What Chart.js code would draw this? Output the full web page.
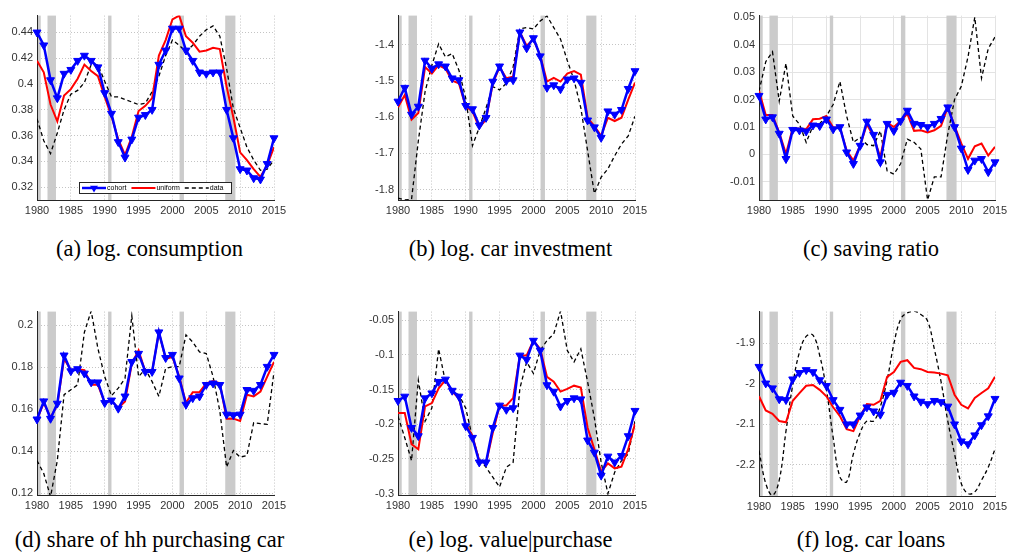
<!DOCTYPE html>
<html lang="en">
<head>
<meta charset="UTF-8" />
<title>Cohort vs uniform model, 1980-2015</title>
<style>
  body { margin: 0; background: #fff; width: 1010px; height: 553px; position: relative; overflow: hidden; }
  .panel { position: absolute; }
  .caption {
    position: absolute; width: 340px; text-align: center; white-space: nowrap;
    font-family: "Liberation Serif", "Times New Roman", serif; font-size: 22.5px; color: #000;
  }
</style>
</head>
<body>
<div class="panel" id="pa"><canvas id="ca"></canvas></div>
<div class="panel" id="pb"><canvas id="cb"></canvas></div>
<div class="panel" id="pc"><canvas id="cc"></canvas></div>
<div class="panel" id="pd"><canvas id="cd"></canvas></div>
<div class="panel" id="pe"><canvas id="ce"></canvas></div>
<div class="panel" id="pf"><canvas id="cf"></canvas></div>

<script src="https://cdn.jsdelivr.net/npm/chart.js@4/dist/chart.umd.min.js"></script>
<script>
const years = [1980, 1981, 1982, 1983, 1984, 1985, 1986, 1987, 1988, 1989,
               1990, 1991, 1992, 1993, 1994, 1995, 1996, 1997, 1998, 1999,
               2000, 2001, 2002, 2003, 2004, 2005, 2006, 2007, 2008, 2009,
               2010, 2011, 2012, 2013, 2014, 2015];
const xTicks = [1980, 1985, 1990, 1995, 2000, 2005, 2010, 2015];

// NBER recessions, start/end as fractional years
const recessions = [[1980.0, 1980.55], [1981.55, 1982.8], [1990.5, 1991.0],
                    [2001.05, 2001.7], [2007.8, 2009.3]];

const seriesNames = ["cohort", "uniform", "data"];

// (a) log. consumption
const consCohort = [0.440, 0.430, 0.403, 0.389, 0.408, 0.411, 0.418, 0.422, 0.418, 0.413,
                    0.393, 0.377, 0.355, 0.343, 0.357, 0.374, 0.376, 0.380, 0.415, 0.426,
                    0.443, 0.443, 0.426, 0.418, 0.409, 0.408, 0.409, 0.409, 0.380, 0.358,
                    0.334, 0.333, 0.327, 0.326, 0.338, 0.358];
const consUniform = [0.418, 0.409, 0.384, 0.371, 0.391, 0.396, 0.404, 0.415, 0.410, 0.406,
                     0.390, 0.375, 0.357, 0.345, 0.359, 0.379, 0.383, 0.389, 0.422, 0.434,
                     0.450, 0.453, 0.437, 0.432, 0.425, 0.426, 0.428, 0.427, 0.398, 0.374,
                     0.347, 0.341, 0.334, 0.328, 0.337, 0.351];
const consData = [0.373, 0.356, 0.346, 0.362, 0.380, 0.392, 0.395, 0.401, 0.415, 0.415,
                  0.402, 0.390, 0.390, 0.388, 0.386, 0.384, 0.385, 0.394, 0.406, 0.422,
                  0.434, 0.430, 0.425, 0.430, 0.437, 0.442, 0.445, 0.437, 0.412, 0.381,
                  0.366, 0.351, 0.341, 0.333, 0.334, 0.341];
const consTicks = [0.32, 0.34, 0.36, 0.38, 0.40, 0.42, 0.44];

// (b) log. car investment
const invCohort = [-1.557, -1.519, -1.593, -1.571, -1.444, -1.466, -1.454, -1.460, -1.493, -1.498,
                   -1.569, -1.578, -1.623, -1.602, -1.502, -1.460, -1.500, -1.498, -1.366, -1.410,
                   -1.382, -1.432, -1.519, -1.512, -1.523, -1.496, -1.493, -1.505, -1.609, -1.628,
                   -1.657, -1.584, -1.593, -1.580, -1.522, -1.473];
const invUniform = [-1.573, -1.539, -1.607, -1.589, -1.462, -1.480, -1.457, -1.466, -1.500, -1.507,
                    -1.571, -1.584, -1.629, -1.607, -1.507, -1.462, -1.493, -1.489, -1.366, -1.403,
                    -1.385, -1.430, -1.502, -1.492, -1.502, -1.480, -1.473, -1.483, -1.602, -1.625,
                    -1.652, -1.602, -1.611, -1.602, -1.552, -1.505];
const invData = [-1.824, -1.829, -1.827, -1.666, -1.530, -1.457, -1.398, -1.434, -1.425, -1.471,
                 -1.548, -1.679, -1.629, -1.575, -1.516, -1.525, -1.507, -1.462, -1.357, -1.353,
                 -1.357, -1.335, -1.321, -1.353, -1.385, -1.444, -1.498, -1.575, -1.693, -1.811,
                 -1.766, -1.743, -1.707, -1.675, -1.652, -1.598];
const invTicks = [-1.8, -1.7, -1.6, -1.5, -1.4];

// (c) saving ratio
const saveCohort = [0.0214, 0.0128, 0.0136, 0.0076, -0.0016, 0.0090, 0.0088, 0.0084, 0.0106, 0.0104,
                    0.0128, 0.0092, 0.0100, 0.0008, -0.0034, 0.0032, 0.0120, 0.0072, -0.0028, 0.0112,
                    0.0086, 0.0122, 0.0160, 0.0112, 0.0108, 0.0100, 0.0112, 0.0130, 0.0172, 0.0100,
                    0.0022, -0.0056, -0.0022, -0.0016, -0.0064, -0.0028];
const saveUniform = [0.0232, 0.0144, 0.0144, 0.0080, 0.0002, 0.0096, 0.0094, 0.0092, 0.0128, 0.0130,
                     0.0140, 0.0098, 0.0098, 0.0014, -0.0022, 0.0032, 0.0110, 0.0064, -0.0010, 0.0116,
                     0.0100, 0.0122, 0.0148, 0.0086, 0.0088, 0.0080, 0.0088, 0.0104, 0.0172, 0.0104,
                     0.0040, -0.0016, 0.0030, 0.0040, -0.0004, 0.0028];
const saveData = [0.0230, 0.0338, 0.0374, 0.0194, 0.0332, 0.0140, 0.0110, 0.0044, 0.0104, 0.0112,
                  0.0140, 0.0182, 0.0266, 0.0140, 0.0044, 0.0062, 0.0036, 0.0032, 0.0086, -0.0060,
                  -0.0072, -0.0034, 0.0056, 0.0044, 0.0020, -0.0166, -0.0082, -0.0082, 0.0074, 0.0200,
                  0.0248, 0.0356, 0.0500, 0.0278, 0.0386, 0.0428];
const saveTicks = [-0.01, 0, 0.01, 0.02, 0.03, 0.04, 0.05];

// (d) share of hh purchasing car
const shareCohort = [0.1552, 0.1638, 0.1555, 0.1627, 0.1856, 0.1781, 0.1791, 0.1770, 0.1728, 0.1728,
                     0.1630, 0.1642, 0.1603, 0.1661, 0.1825, 0.1864, 0.1778, 0.1778, 0.1966, 0.1844,
                     0.1859, 0.1747, 0.1622, 0.1653, 0.1661, 0.1716, 0.1723, 0.1716, 0.1575, 0.1572,
                     0.1575, 0.1692, 0.1688, 0.1716, 0.1802, 0.1859];
const shareUniform = [0.1550, 0.1630, 0.1560, 0.1620, 0.1840, 0.1786, 0.1790, 0.1786, 0.1716, 0.1716,
                      0.1630, 0.1640, 0.1606, 0.1637, 0.1817, 0.1880, 0.1778, 0.1780, 0.1966, 0.1840,
                      0.1848, 0.1755, 0.1630, 0.1681, 0.1681, 0.1723, 0.1734, 0.1723, 0.1555, 0.1555,
                      0.1544, 0.1669, 0.1661, 0.1684, 0.1755, 0.1825];
const shareData = [0.1356, 0.1294, 0.1184, 0.1356, 0.1669, 0.1692, 0.1716, 0.1966, 0.2067, 0.1888,
                   0.1755, 0.1664, 0.1700, 0.1747, 0.2044, 0.1755, 0.1791, 0.1731, 0.1661, 0.1794,
                   0.1802, 0.1802, 0.1953, 0.1919, 0.1872, 0.1864, 0.1755, 0.1591, 0.1325, 0.1403,
                   0.1372, 0.1380, 0.1536, 0.1531, 0.1528, 0.1778];
const shareTicks = [0.12, 0.14, 0.16, 0.18, 0.2];

// (e) log. value|purchase
const valCohort = [-0.1662, -0.1600, -0.2051, -0.2170, -0.1624, -0.1553, -0.1387, -0.1354, -0.1515, -0.1600,
                   -0.2027, -0.2194, -0.2549, -0.2549, -0.2051, -0.1729, -0.1790, -0.1767, -0.1008, -0.1069,
                   -0.0794, -0.0936, -0.1435, -0.1529, -0.1743, -0.1662, -0.1624, -0.1639, -0.2232, -0.2407,
                   -0.2739, -0.2464, -0.2549, -0.2455, -0.2170, -0.1805];
const valUniform = [-0.1838, -0.1838, -0.2288, -0.2360, -0.1743, -0.1695, -0.1482, -0.1363, -0.1529, -0.1624,
                    -0.1994, -0.2170, -0.2526, -0.2564, -0.2122, -0.1729, -0.1729, -0.1624, -0.1008, -0.1008,
                    -0.0794, -0.0913, -0.1316, -0.1387, -0.1529, -0.1491, -0.1444, -0.1472, -0.2051, -0.2360,
                    -0.2682, -0.2564, -0.2635, -0.2611, -0.2360, -0.1994];
const valData = [-0.1885, -0.2194, -0.2526, -0.1363, -0.1956, -0.1767, -0.0913, -0.1387, -0.1506, -0.1577,
                 -0.1767, -0.2194, -0.2502, -0.2620, -0.2763, -0.2905, -0.2620, -0.2549, -0.1482, -0.1102,
                 -0.1268, -0.0936, -0.0794, -0.0699, -0.0367, -0.0936, -0.1102, -0.0913, -0.1387, -0.1909,
                 -0.2549, -0.3000, -0.2692, -0.2526, -0.2431, -0.1956];
const valTicks = [-0.3, -0.25, -0.2, -0.15, -0.1, -0.05];

// (f) log. car loans
const loanCohort = [-1.958, -1.999, -2.011, -2.038, -2.040, -1.989, -1.973, -1.966, -1.971, -1.991,
                    -2.005, -2.040, -2.064, -2.100, -2.100, -2.078, -2.058, -2.068, -2.076, -2.027,
                    -2.022, -1.997, -2.005, -2.031, -2.044, -2.050, -2.042, -2.045, -2.056, -2.100,
                    -2.142, -2.149, -2.127, -2.102, -2.080, -2.037];
const loanUniform = [-2.031, -2.066, -2.074, -2.092, -2.095, -2.042, -2.023, -2.005, -2.003, -2.015,
                     -2.031, -2.058, -2.080, -2.112, -2.117, -2.080, -2.050, -2.052, -2.042, -1.983,
                     -1.971, -1.946, -1.942, -1.961, -1.964, -1.971, -1.972, -1.975, -1.979, -2.027,
                     -2.052, -2.061, -2.035, -2.023, -2.011, -1.983];
const loanData = [-2.165, -2.246, -2.275, -2.238, -2.117, -2.003, -1.922, -1.883, -1.880, -1.930,
                  -2.015, -2.133, -2.230, -2.242, -2.173, -2.121, -2.092, -2.092, -2.056, -1.991,
                  -1.902, -1.841, -1.825, -1.821, -1.829, -1.845, -1.914, -1.995, -2.092, -2.173,
                  -2.246, -2.271, -2.267, -2.238, -2.206, -2.161];
const loanTicks = [-2.2, -2.1, -2.0, -1.9];

const captions = ["(a) log. consumption", "(b) log. car investment", "(c) saving ratio",
                  "(d) share of hh purchasing car", "(e) log. value|purchase", "(f) log. car loans"];

// plot-area rectangles on the page: [left, top, right, bottom]
const panels = [
  { id: "a", box: [37, 13, 274, 200],  yMin: 0.310,  yMax: 0.453,   ticks: consTicks,
    series: [consCohort, consUniform, consData], legend: true },
  { id: "b", box: [398, 13, 635, 200], yMin: -1.829, yMax: -1.320,  ticks: invTicks,
    series: [invCohort, invUniform, invData] },
  { id: "c", box: [759, 13, 995, 200], yMin: -0.0166, yMax: 0.0506, ticks: saveTicks,
    series: [saveCohort, saveUniform, saveData], solidGrid: true },
  { id: "d", box: [37, 309, 274, 495], yMin: 0.1192, yMax: 0.2064,  ticks: shareTicks,
    series: [shareCohort, shareUniform, shareData] },
  { id: "e", box: [398, 309, 635, 495], yMin: -0.302, yMax: -0.0376, ticks: valTicks,
    series: [valCohort, valUniform, valData] },
  { id: "f", box: [759, 309, 995, 496], yMin: -2.277, yMax: -1.822,  ticks: loanTicks,
    series: [loanCohort, loanUniform, loanData], smoothData: true }
];

const captionRows = [250, 541];

// grey bands behind the lines
const recessionShading = {
  id: "recessionShading",
  beforeDatasetsDraw(chart) {
    const { ctx, chartArea, scales } = chart;
    ctx.save();
    ctx.fillStyle = "#cbcbcb";
    recessions.forEach(([a, b]) => {
      const x1 = Math.max(scales.x.getPixelForValue(a), chartArea.left + 1);
      const x2 = scales.x.getPixelForValue(b);
      ctx.fillRect(x1, chartArea.top, x2 - x1, chartArea.bottom - chartArea.top);
    });
    ctx.restore();
  }
};

function downTriangle(ctx, x, y, r) {
  ctx.beginPath();
  ctx.moveTo(x - r * 0.866, y - r * 0.5);
  ctx.lineTo(x + r * 0.866, y - r * 0.5);
  ctx.lineTo(x, y + r);
  ctx.closePath();
  ctx.fill();
}

// small boxed legend sitting at the bottom of the plot area
const insetLegend = {
  id: "insetLegend",
  afterDatasetsDraw(chart, args, opts) {
    if (!opts.show) return;
    const { ctx, chartArea } = chart;
    const x0 = chartArea.left + 42, w = 152, h = 11;
    const y0 = chartArea.bottom - 7 - h;
    ctx.save();
    ctx.fillStyle = "#fff";
    ctx.fillRect(x0, y0, w, h);
    ctx.strokeStyle = "#262626";
    ctx.lineWidth = 1;
    ctx.strokeRect(x0 + 0.5, y0 + 0.5, w, h);
    ctx.font = "7px 'Liberation Sans', Arial, sans-serif";
    ctx.textBaseline = "middle";
    const ym = y0 + h / 2 + 0.5;
    let x = x0 + 3;
    chart.data.datasets.forEach(ds => {
      ctx.strokeStyle = ds.borderColor;
      ctx.lineWidth = ds.borderWidth;
      ctx.setLineDash(ds.borderDash || []);
      ctx.beginPath();
      ctx.moveTo(x, ym);
      ctx.lineTo(x + 24, ym);
      ctx.stroke();
      ctx.setLineDash([]);
      if (ds.pointRadius > 0) {
        ctx.fillStyle = ds.borderColor;
        downTriangle(ctx, x + 12, ym, ds.pointRadius);
      }
      ctx.fillStyle = "#000";
      ctx.fillText(ds.label, x + 25, ym);
      x += 25 + ctx.measureText(ds.label).width + 5;
    });
    ctx.restore();
  }
};

const Y_AXIS_W = 45, PAD_R = 24, PAD_T = 8, X_AXIS_H = 28;

function fmt(v) {
  return String(Number(v.toFixed(4)));
}

function makeChart(p) {
  const [L, T, R, B] = p.box;
  const wrap = document.getElementById("p" + p.id);
  const width = R - L + Y_AXIS_W + PAD_R;
  const height = B - T + PAD_T + X_AXIS_H;
  wrap.style.left = (L - Y_AXIS_W) + "px";
  wrap.style.top = (T - PAD_T) + "px";
  const canvas = document.getElementById("c" + p.id);
  canvas.width = width;
  canvas.height = height;

  const pts = arr => years.map((y, i) => ({ x: y, y: arr[i] }));
  const gridColor = p.solidGrid ? "#e3e3e3" : "#c4c4c4";
  const gridDash = p.solidGrid ? [] : [1, 2];
  const tickFont = { family: "'Liberation Sans', Arial, sans-serif", size: 11 };

  new Chart(canvas, {
    type: "line",
    data: {
      datasets: [{
        label: seriesNames[0],
        data: pts(p.series[0]),
        borderColor: "#0000ff",
        backgroundColor: "#0000ff",
        borderWidth: 2.5,
        pointStyle: "triangle",
        rotation: 180,
        pointRadius: 4.6,
        pointBorderWidth: 1,
        clip: false
      }, {
        label: seriesNames[1],
        data: pts(p.series[1]),
        borderColor: "#ff0000",
        borderWidth: 2,
        pointRadius: 0
      }, {
        label: seriesNames[2],
        data: pts(p.series[2]),
        borderColor: "#000000",
        borderWidth: 1.3,
        borderDash: [4, 3],
        pointRadius: 0,
        tension: p.smoothData ? 0.4 : 0
      }]
    },
    options: {
      responsive: false,
      animation: false,
      layout: { padding: { left: 0, right: PAD_R, top: PAD_T, bottom: 0 } },
      plugins: {
        legend: { display: false },
        tooltip: { enabled: false },
        insetLegend: { show: !!p.legend }
      },
      scales: {
        x: {
          type: "linear",
          min: 1980,
          max: 2015,
          afterBuildTicks: s => { s.ticks = xTicks.map(v => ({ value: v })); },
          afterFit: s => { s.height = X_AXIS_H; },
          ticks: { color: "#333", font: tickFont, padding: 4, maxRotation: 0, callback: v => String(v) },
          grid: { color: gridColor, lineWidth: 1, drawTicks: false },
          border: { display: true, color: "#262626", width: 1, dash: gridDash }
        },
        y: {
          min: p.yMin,
          max: p.yMax,
          afterBuildTicks: s => { s.ticks = p.ticks.map(v => ({ value: v })); },
          afterFit: s => { s.width = Y_AXIS_W; },
          ticks: { color: "#333", font: tickFont, padding: 4, callback: v => fmt(v) },
          grid: { color: gridColor, lineWidth: 1, drawTicks: false },
          border: { display: true, color: "#262626", width: 1, dash: gridDash }
        }
      }
    },
    plugins: [recessionShading, insetLegend]
  });
}

panels.forEach(makeChart);

// captions sit slightly left of the plot-area centre
captions.forEach((text, i) => {
  const p = panels[i];
  const div = document.createElement("div");
  div.className = "caption";
  div.textContent = text;
  const cx = (p.box[0] + p.box[2]) / 2 - 6;
  div.style.left = (cx - 170) + "px";
  div.style.top = (captionRows[Math.floor(i / 3)] - 14) + "px";
  document.body.appendChild(div);
});
</script>
</body>
</html>
